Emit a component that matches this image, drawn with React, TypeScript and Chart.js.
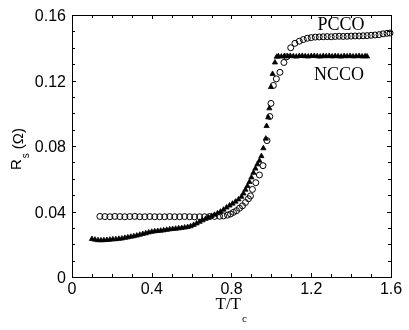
import React, { useEffect, useRef } from "react";
import { Chart, registerables } from "chart.js";

Chart.register(...registerables);

// ---- Data ----
const ncco_T = [
  0.10, 0.115, 0.13, 0.145, 0.16, 0.175, 0.19, 0.205, 0.22, 0.235, 0.25, 0.265, 0.28, 0.295,
  0.31, 0.325, 0.34, 0.355, 0.37, 0.385, 0.40, 0.415, 0.43, 0.445, 0.46, 0.475, 0.49, 0.505,
  0.52, 0.535, 0.55, 0.565, 0.58, 0.595, 0.61, 0.625, 0.64, 0.655, 0.67, 0.685, 0.70, 0.715,
  0.73, 0.745, 0.76, 0.775, 0.79, 0.805, 0.82, 0.835, 0.85, 0.86, 0.87, 0.88, 0.89, 0.90,
  0.91, 0.92, 0.93, 0.94, 0.95, 0.96, 0.972, 0.976, 0.984, 0.99, 0.998, 1.006, 1.018, 1.027,
  1.035, 1.05, 1.065, 1.08, 1.095, 1.11, 1.125, 1.14, 1.155, 1.17, 1.185, 1.2, 1.215, 1.23,
  1.245, 1.26, 1.275, 1.29, 1.305, 1.32, 1.335, 1.35, 1.365, 1.38, 1.395, 1.41, 1.425, 1.44,
  1.455, 1.47, 1.48,
];
const ncco_Rs = [
  0.0232, 0.0228, 0.0225, 0.0224, 0.0225, 0.0226, 0.0228, 0.0230, 0.0231, 0.0233, 0.0235, 0.0239, 0.0242, 0.0246,
  0.0249, 0.0253, 0.0258, 0.0263, 0.0267, 0.0272, 0.0276, 0.0279, 0.0281, 0.0283, 0.0285, 0.0288, 0.0291, 0.0293,
  0.0295, 0.0297, 0.0299, 0.0302, 0.0305, 0.0310, 0.0318, 0.0327, 0.0337, 0.0346, 0.0355, 0.0363, 0.0372, 0.0380,
  0.0389, 0.0399, 0.0411, 0.0424, 0.0436, 0.0448, 0.0460, 0.0474, 0.0490, 0.0510, 0.0533, 0.0555, 0.0580, 0.0608,
  0.0636, 0.0662, 0.0688, 0.0710, 0.0738, 0.0786, 0.0845, 0.0922, 0.0975, 0.1030, 0.1160, 0.1240, 0.1310, 0.1345,
  0.1348, 0.1346, 0.1349, 0.1347, 0.1350, 0.1348, 0.1346, 0.1349, 0.1350, 0.1348, 0.1347, 0.1349, 0.1350, 0.1348,
  0.1346, 0.1349, 0.1348, 0.1350, 0.1347, 0.1349, 0.1348, 0.1346, 0.1349, 0.1348, 0.1350, 0.1347, 0.1348, 0.1349,
  0.1347, 0.1348, 0.1347,
];

const pcco_T = [
  0.14, 0.165, 0.19, 0.215, 0.24, 0.265, 0.29, 0.315, 0.34, 0.365, 0.39, 0.415, 0.44, 0.465,
  0.49, 0.515, 0.54, 0.565, 0.59, 0.615, 0.64, 0.665, 0.69, 0.715, 0.74, 0.76, 0.78, 0.795,
  0.81, 0.825, 0.84, 0.855, 0.87, 0.885, 0.895, 0.905, 0.922, 0.94, 0.958, 0.978, 0.992, 0.998,
  1.01, 1.025, 1.043, 1.063, 1.077, 1.097, 1.118, 1.14, 1.16, 1.18, 1.2, 1.22, 1.24, 1.26,
  1.28, 1.3, 1.32, 1.34, 1.36, 1.38, 1.4, 1.42, 1.44, 1.46, 1.48, 1.5, 1.52, 1.54, 1.56, 1.58, 1.595,
];
const pcco_Rs = [
  0.0370, 0.0369, 0.0368, 0.0370, 0.0369, 0.0368, 0.0369, 0.0370, 0.0368, 0.0368, 0.0369, 0.0368, 0.0368, 0.0368,
  0.0369, 0.0368, 0.0368, 0.0369, 0.0368, 0.0367, 0.0368, 0.0368, 0.0369, 0.0370, 0.0371, 0.0373, 0.0378, 0.0385,
  0.0395, 0.0405, 0.0420, 0.0435, 0.0455, 0.0478, 0.0495, 0.0535, 0.0576, 0.0623, 0.0680, 0.0833, 0.0980, 0.1060,
  0.1170, 0.1210, 0.1250, 0.1310, 0.1345, 0.1400, 0.1427, 0.1440, 0.1450, 0.1458, 0.1462, 0.1465, 0.1466, 0.1467,
  0.1468, 0.1467, 0.1469, 0.1470, 0.1469, 0.1470, 0.1471, 0.1472, 0.1472, 0.1473, 0.1474, 0.1476, 0.1478, 0.1480, 0.1485, 0.1488, 0.1490,
];

const xTicks = [0, 0.4, 0.8, 1.2, 1.6];
const xTickLabels = ["0", "0.4", "0.8", "1.2", "1.6"];
const yTicks = [0, 0.04, 0.08, 0.12, 0.16];
const yTickLabels = ["0", "0.04", "0.08", "0.12", "0.16"];
const xMinorStep = 0.1;
const yMinorStep = 0.01;

const seriesLabels = ["PCCO", "NCCO"];

const SANS = "'Liberation Sans', Arial, sans-serif";
const SERIF = "'Liberation Serif', 'Times New Roman', serif";

const framePlugin = {
  id: "frame",
  afterDraw(chart: any) {
    const ctx = chart.ctx as CanvasRenderingContext2D;
    const xs = chart.scales.x;
    const ys = chart.scales.y;
    const { left, right, top, bottom } = chart.chartArea;
    ctx.save();
    ctx.strokeStyle = "#000";
    ctx.lineWidth = 1;
    ctx.strokeRect(left + 0.5, top + 0.5, right - left - 1 + 1, bottom - top);

    // minor + major ticks inward
    ctx.beginPath();
    for (let v = 0; v <= 1.6 + 1e-9; v += xMinorStep) {
      const px = Math.round(xs.getPixelForValue(v)) + 0.5;
      const major = xTicks.some((t) => Math.abs(t - v) < 1e-6);
      const len = major ? 4 : 3;
      ctx.moveTo(px, bottom);
      ctx.lineTo(px, bottom - len);
      ctx.moveTo(px, top);
      ctx.lineTo(px, top + len);
    }
    for (let v = 0; v <= 0.16 + 1e-9; v += yMinorStep) {
      const py = Math.round(ys.getPixelForValue(v)) + 0.5;
      const major = yTicks.some((t) => Math.abs(t - v) < 1e-6);
      const len = major ? 4 : 3;
      ctx.moveTo(left, py);
      ctx.lineTo(left + len, py);
      ctx.moveTo(right, py);
      ctx.lineTo(right - len, py);
    }
    ctx.stroke();

    // tick labels
    ctx.fillStyle = "#000";
    ctx.font = `16px ${SANS}`;
    ctx.textAlign = "center";
    ctx.textBaseline = "alphabetic";
    xTicks.forEach((t, i) => {
      ctx.fillText(xTickLabels[i], xs.getPixelForValue(t), bottom + 17);
    });
    ctx.textAlign = "right";
    yTicks.forEach((t, i) => {
      ctx.fillText(yTickLabels[i], left - 6, ys.getPixelForValue(t) + 6);
    });

    // x title T/T_c
    ctx.font = `17px ${SERIF}`;
    ctx.textAlign = "left";
    const xt = "T/T";
    const wT = ctx.measureText(xt).width;
    const cx = (left + right) / 2;
    const x0 = cx - 16;
    ctx.fillText(xt, x0, bottom + 32);
    ctx.font = `11px ${SERIF}`;
    ctx.fillText("c", x0 + wT + 1, bottom + 45);

    // y title R_s (Ω)
    ctx.save();
    ctx.translate(21, 170);
    ctx.rotate(-Math.PI / 2);
    ctx.font = `15px ${SANS}`;
    ctx.textAlign = "left";
    ctx.fillText("R", 0, 0);
    const wR = ctx.measureText("R").width;
    ctx.font = `10px ${SANS}`;
    ctx.fillText("s", wR + 1, 8);
    const wS = ctx.measureText("s").width;
    ctx.font = `15px ${SANS}`;
    ctx.fillText("(Ω)", wR + wS + 5, 2);
    ctx.restore();

    // series labels
    ctx.font = `18px ${SERIF}`;
    ctx.textAlign = "center";
    ctx.fillText(seriesLabels[0], xs.getPixelForValue(1.349), ys.getPixelForValue(0.1508));
    ctx.fillText(seriesLabels[1], xs.getPixelForValue(1.339), ys.getPixelForValue(0.1203));
    ctx.restore();
  },
};

export default function App() {
  const ref = useRef<HTMLCanvasElement | null>(null);
  useEffect(() => {
    document.body.style.margin = "0";
    const canvas = ref.current!;
    const chart = new Chart(canvas, {
      type: "scatter",
      data: {
        datasets: [
          {
            label: seriesLabels[0],
            data: pcco_T.map((t, i) => ({ x: t, y: pcco_Rs[i] })),
            pointStyle: "circle",
            pointRadius: 3,
            borderWidth: 1,
            borderColor: "#000",
            backgroundColor: "rgba(0,0,0,0)",
            clip: false as any,
          },
          {
            label: seriesLabels[1],
            data: ncco_T.map((t, i) => ({ x: t, y: ncco_Rs[i] })),
            pointStyle: "triangle",
            pointRadius: 3,
            borderWidth: 0.8,
            borderColor: "#000",
            backgroundColor: "#000",
            clip: false as any,
          },
        ],
      },
      options: {
        animation: false,
        responsive: false,
        devicePixelRatio: 1,
        events: [],
        layout: { padding: { left: 72, top: 15, right: 18, bottom: 53 } },
        plugins: { legend: { display: false }, tooltip: { enabled: false } },
        scales: {
          x: { type: "linear", min: 0, max: 1.6, display: false },
          y: { type: "linear", min: 0, max: 0.16, display: false },
        },
      },
      plugins: [framePlugin],
    });
    return () => chart.destroy();
  }, []);
  return (
    <div style={{ width: 409, height: 330, background: "#fff" }}>
      <canvas ref={ref} width={409} height={330} style={{ display: "block" }} />
    </div>
  );
}
